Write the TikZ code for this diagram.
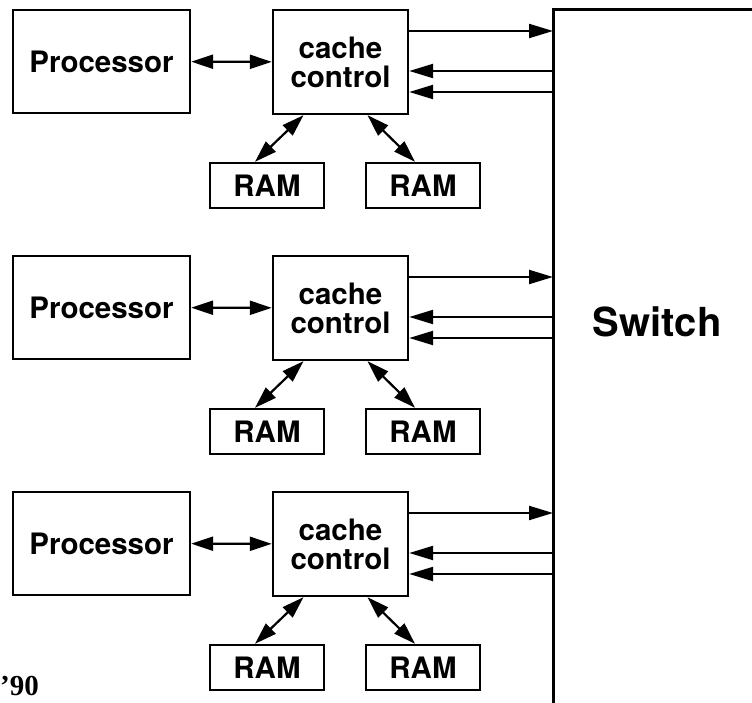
\documentclass[tikz,border=0pt]{standalone}
\usepackage{fontspec}
\setmainfont{TeX Gyre Heros}
\newfontfamily\yearfont{Liberation Serif}
\usetikzlibrary{arrows.meta}

\tikzset{
  unit/.style={draw, line width=2.4pt, font=\bfseries\fontsize{29.5}{29}\selectfont, align=center, inner sep=0pt},
  bus/.style={line width=2.2pt, -{Triangle[length=24pt,width=14pt]}},
  duplex/.style={line width=2.2pt, {Triangle[length=22pt,width=14pt]}-{Triangle[length=22pt,width=14pt]}}
}

\begin{document}
\begin{tikzpicture}[x=1pt, y=-1pt]
  \useasboundingbox (0,0) rectangle (752,703);
  % switch, cut off at the page edge
  \draw[line width=3pt] (752,10) -- (553,10) -- (553,703);
  \coordinate (sw) at (553,0);
  \node[font=\bfseries\fontsize{40}{40}\selectfont] (switch) at (657,322) {Switch};
  % one processor node per row
  \foreach \i/\b in {1/10, 2/256, 3/492} {
    \node[unit, minimum width=177pt, minimum height=103pt] (P\i) at (101.5,\b+51.5) {Processor};
    \node[unit, minimum width=135pt, minimum height=104pt] (C\i) at (340.5,\b+52) {cache\\control};
    \node[unit, minimum width=114pt, minimum height=45pt] (Ra\i) at (267,\b+175.5) {RAM};
    \node[unit, minimum width=114pt, minimum height=45pt] (Rb\i) at (423,\b+175.5) {RAM};
    \draw[duplex] (P\i) -- (C\i);
    \draw[duplex] ([xshift=-37pt]C\i.south) -- ([xshift=-12pt]Ra\i.north);
    \draw[duplex] ([xshift=27pt]C\i.south) -- ([xshift=-8pt]Rb\i.north);
    \draw[bus] (C\i.east |- 0,\b+21) -- (sw |- 0,\b+21);
    \draw[bus] (sw |- 0,\b+61) -- (C\i.east |- 0,\b+61);
    \draw[bus] (sw |- 0,\b+82) -- (C\i.east |- 0,\b+82);
  }
  \node[font=\yearfont\bfseries\fontsize{29}{29}\selectfont, anchor=base west, inner sep=0pt] (year) at (0,695) {’90};
\end{tikzpicture}
\end{document}
